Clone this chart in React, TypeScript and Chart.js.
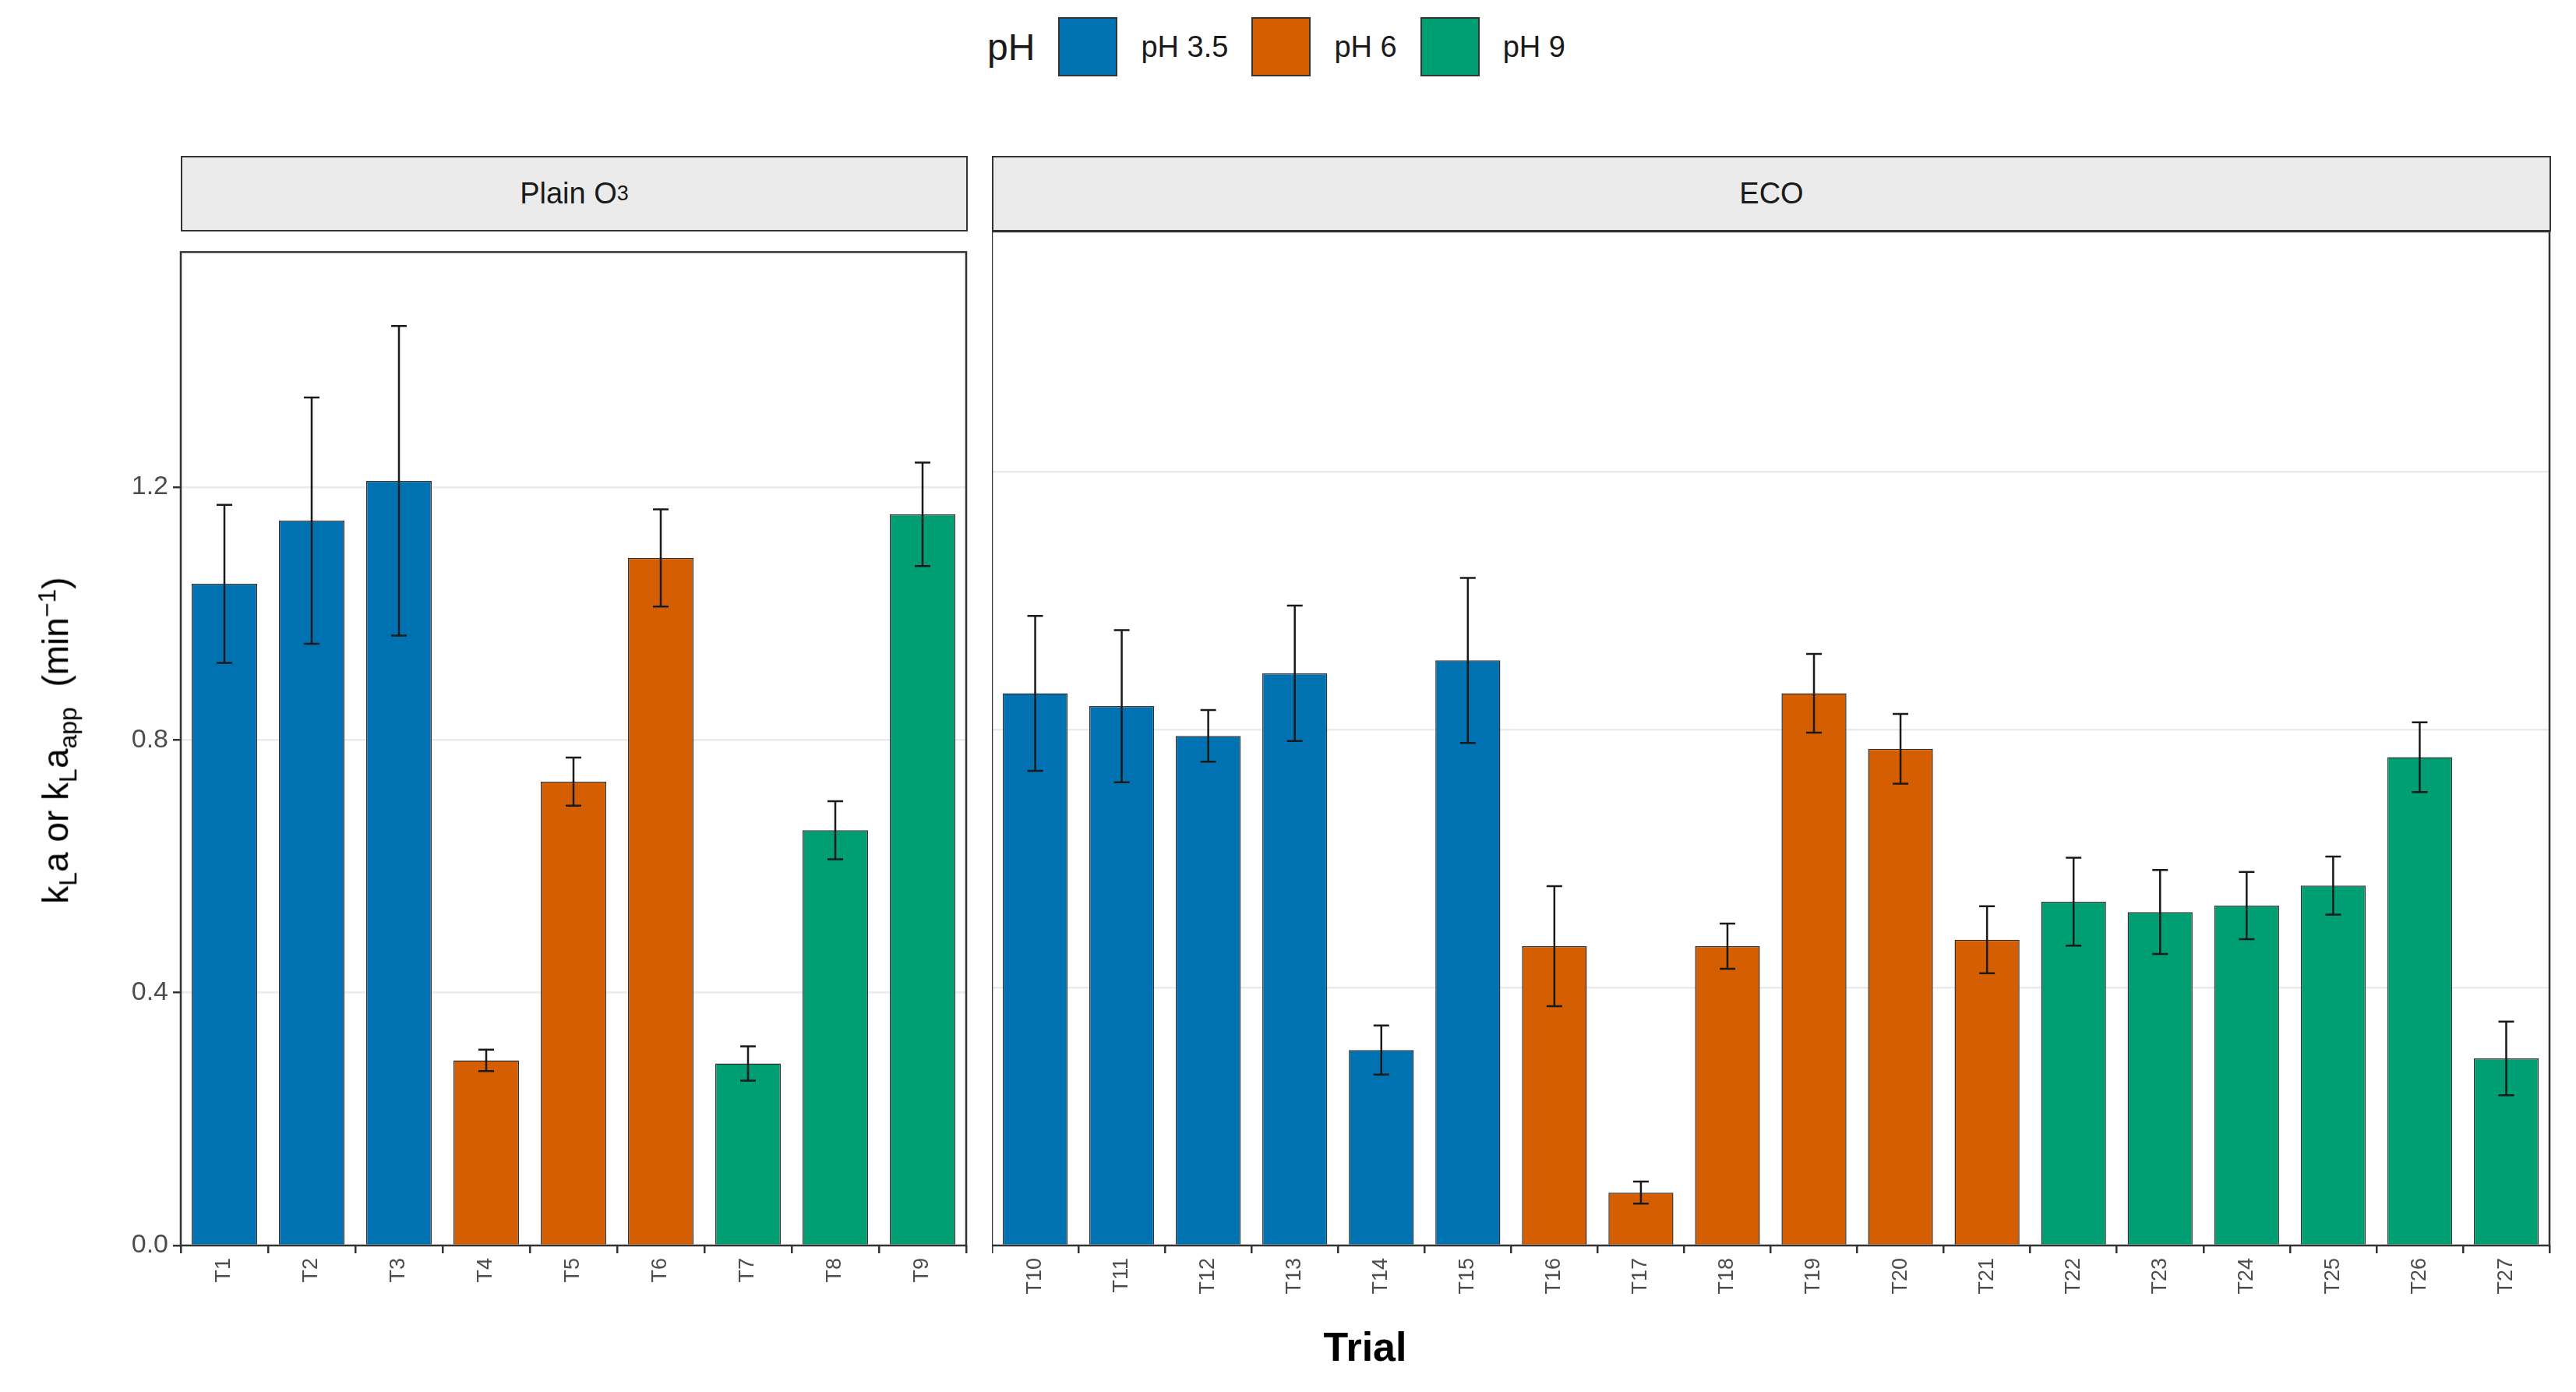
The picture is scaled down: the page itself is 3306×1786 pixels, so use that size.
import React, { useEffect, useRef } from "react";
import { Chart, registerables } from "chart.js";
Chart.register(...registerables);

const trialsPlain = ["T1","T2","T3","T4","T5","T6","T7","T8","T9"];
const valuesPlain = [1.047,1.147,1.21,0.293,0.734,1.088,0.288,0.657,1.157];
const errorsPlain = [0.125,0.195,0.245,0.017,0.038,0.077,0.027,0.046,0.082];
const phPlain = [0,0,0,1,1,1,2,2,2];

const trialsEco = ["T10","T11","T12","T13","T14","T15","T16","T17","T18","T19","T20","T21","T22","T23","T24","T25","T26","T27"];
const valuesEco = [0.856,0.836,0.79,0.887,0.303,0.907,0.464,0.082,0.464,0.856,0.77,0.474,0.533,0.517,0.527,0.558,0.757,0.29];
const errorsEco = [0.12,0.118,0.04,0.105,0.038,0.128,0.093,0.017,0.035,0.061,0.054,0.052,0.068,0.065,0.052,0.045,0.054,0.057];
const phEco = [0,0,0,0,0,0,1,1,1,1,1,1,2,2,2,2,2,2];

const phLabels = ["pH 3.5","pH 6","pH 9"];
const phColors = ["#0072B2","#D55E00","#009E73"];
const yTicks = [0, 0.4, 0.8, 1.2];

const FONT = "'Liberation Sans', Arial, sans-serif";

const errPlugin = {
  id: "errbars",
  afterDatasetsDraw(chart: any) {
    const errs: number[] = chart.options.plugins.errbars.errors;
    const vals: number[] = chart.data.datasets[0].data;
    const meta = chart.getDatasetMeta(0);
    const y = chart.scales.y;
    const ctx = chart.ctx;
    ctx.save();
    ctx.strokeStyle = "#1a1a1a";
    ctx.lineWidth = 2.5;
    meta.data.forEach((el: any, i: number) => {
      const x = el.x;
      const t = y.getPixelForValue(vals[i] + errs[i]);
      const b = y.getPixelForValue(vals[i] - errs[i]);
      ctx.beginPath();
      ctx.moveTo(x, t); ctx.lineTo(x, b);
      ctx.moveTo(x - 10, t); ctx.lineTo(x + 10, t);
      ctx.moveTo(x - 10, b); ctx.lineTo(x + 10, b);
      ctx.stroke();
    });
    const a = chart.chartArea;
    ctx.strokeStyle = "#333";
    ctx.lineWidth = 2.5;
    ctx.strokeRect(a.left, a.top, a.right - a.left, a.bottom - a.top);
    ctx.restore();
  },
};

function Panel(props: { labels: string[]; values: number[]; errors: number[]; ph: number[]; showY: boolean; style: any }) {
  const ref = useRef<HTMLCanvasElement>(null);
  useEffect(() => {
    const chart = new Chart(ref.current!, {
      type: "bar",
      data: {
        labels: props.labels,
        datasets: [{
          data: props.values,
          backgroundColor: props.ph.map((p) => phColors[p]),
          borderColor: "#333",
          borderWidth: 1.5,
          barPercentage: 0.75,
          categoryPercentage: 1,
        }],
      },
      options: {
        animation: false,
        responsive: false,
        layout: { padding: { left: 0, right: 5, top: 0, bottom: 0 } },
        plugins: { legend: { display: false }, tooltip: { enabled: false }, errbars: { errors: props.errors } } as any,
        scales: {
          x: {
            offset: true,
            border: { display: false },
            grid: { drawOnChartArea: false, tickColor: "#333", tickLength: 10, lineWidth: 2.5 },
            ticks: { minRotation: 90, maxRotation: 90, color: "#4d4d4d", font: { family: FONT, size: 27 }, padding: 6 },
            afterFit: (s: any) => { s.height = 188; },
          },
          y: {
            min: 0, max: 1.572,
            border: { display: false },
            afterBuildTicks: (s: any) => { s.ticks = yTicks.map((v) => ({ value: v })); },
            grid: { color: (c: any) => (c.tick && c.tick.value === 0 ? "rgba(0,0,0,0)" : "#ebebeb"), lineWidth: 2.5, drawTicks: props.showY, tickColor: "#333", tickLength: 10 },
            ticks: { display: props.showY, color: "#4d4d4d", font: { family: FONT, size: 34 }, callback: (v: any) => Number(v).toFixed(1), padding: 6 },
            afterFit: (s: any) => { s.width = props.showY ? 232 : 0; },
          },
        },
      },
      plugins: [errPlugin],
    } as any);
    return () => chart.destroy();
  }, []);
  return <canvas ref={ref} width={props.style.width} height={props.style.height} style={{ position: "absolute", ...props.style }} />;
}

const stripStyle: any = {
  position: "absolute", top: 200, height: 97, boxSizing: "border-box",
  background: "#ebebeb", border: "2.5px solid #333", display: "flex",
  alignItems: "center", justifyContent: "center", fontSize: 38, color: "#1a1a1a",
};

export default function App() {
  return (
    <div style={{ position: "relative", width: 3306, height: 1786, margin: -8, background: "#fff", fontFamily: FONT, overflow: "hidden" }}>
      <div style={{ position: "absolute", top: 22, left: 0, width: 3306, display: "flex", justifyContent: "center", alignItems: "center" }}>
        <span style={{ fontSize: 48, marginRight: 30, color: "#1a1a1a" }}>pH</span>
        {phLabels.map((l, i) => (
          <span key={l} style={{ display: "flex", alignItems: "center", marginRight: 30 }}>
            <span style={{ width: 76, height: 76, boxSizing: "border-box", background: phColors[i], border: "2px solid #333", display: "inline-block" }} />
            <span style={{ fontSize: 38, marginLeft: 30, color: "#1a1a1a" }}>{l}</span>
          </span>
        ))}
      </div>
      <div style={{ ...stripStyle, left: 232, width: 1010 }}>Plain O<sub style={{ fontSize: 27 }}>3</sub></div>
      <div style={{ ...stripStyle, left: 1273, width: 2001 }}>ECO</div>
      <Panel labels={trialsPlain} values={valuesPlain} errors={errorsPlain} ph={phPlain} showY={true} style={{ left: 0, top: 297, width: 1245, height: 1489 }} />
      <Panel labels={trialsEco} values={valuesEco} errors={errorsEco} ph={phEco} showY={false} style={{ left: 1273, top: 297, width: 2004, height: 1489 }} />
      <div style={{ position: "absolute", left: 74, top: 950, transform: "translate(-50%,-50%) rotate(-90deg)", whiteSpace: "nowrap", fontSize: 46, color: "#000" }}>
        k<sub style={{ fontSize: 32 }}>L</sub>a or k<sub style={{ fontSize: 32 }}>L</sub>a<sub style={{ fontSize: 32 }}>app</sub>&nbsp;&nbsp;(min<sup style={{ fontSize: 32 }}>−1</sup>)
      </div>
      <div style={{ position: "absolute", left: 1752, top: 1728, transform: "translate(-50%,-50%)", fontSize: 52, fontWeight: "bold", color: "#000" }}>Trial</div>
    </div>
  );
}
